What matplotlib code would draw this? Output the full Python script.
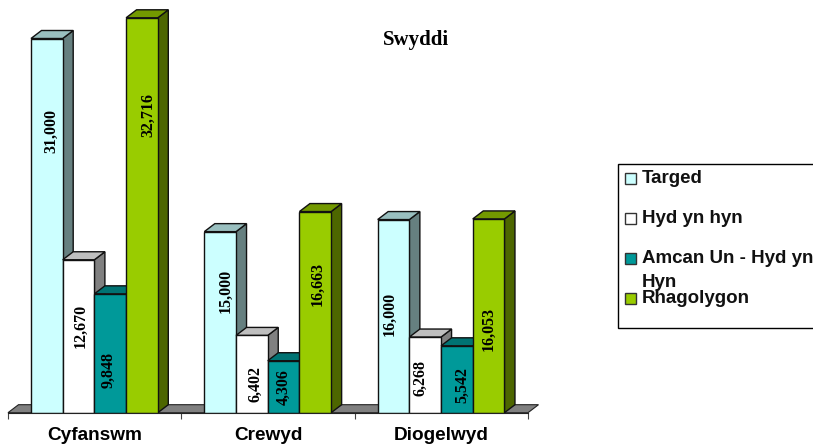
import matplotlib
matplotlib.use('Agg')
import matplotlib.pyplot as plt
from matplotlib.patches import Polygon, Rectangle

categories = ['Cyfanswm', 'Crewyd', 'Diogelwyd']
series_names = ['Targed', 'Hyd yn hyn', 'Amcan Un - Hyd yn\nHyn', 'Rhagolygon']
targed = [31000, 15000, 16000]
hyd_yn_hyn = [12670, 6402, 6268]
amcan = [9848, 4306, 5542]
rhagolygon = [32716, 16663, 16053]
series = [targed, hyd_yn_hyn, amcan, rhagolygon]

front = ['#CCFFFF', '#FFFFFF', '#009999', '#99CC00']
top = ['#99BFBF', '#BFBFBF', '#007373', '#739900']
side = ['#668080', '#808080', '#004D4D', '#4D6600']

# label offsets from the middle of each bar, in pixels
label_dx = [[4, 5, -4], [2, 3, -5], [-1.5, 0, 5], [6.5, 2.5, 0]]
label_dy = [[95, 31, 2], [10, -10, -3], [-17, 0, -6], [100, 28, -13]]

W, H = 813, 447
fig = plt.figure(figsize=(W / 100, H / 100), dpi=100)
left_px, right_px, base_px = 8, 528, 412.7
y_max = 34000
px_per_unit = 374.2 / 31000
ax = fig.add_axes([left_px / W, (H - base_px) / H, (right_px - left_px) / W,
                   y_max * px_per_unit / H])
ax.set_xlim(0, 3)
ax.set_ylim(0, y_max)
ax.patch.set_alpha(0)

depth_x = 10.5 / ((right_px - left_px) / 3)
depth_y = 8 / px_per_unit
bar_w = 31.7 / ((right_px - left_px) / 3)
first = 23 / ((right_px - left_px) / 3)

# floor
ax.add_patch(Polygon([(0, 0), (3, 0), (3 + depth_x, depth_y), (depth_x, depth_y)],
                     fc='#808080', ec='#222222', lw=0.8, clip_on=False, zorder=1))

z = 2
for c in range(3):
    for s in range(4):
        x = c + first + s * bar_w
        v = series[s][c]
        ax.add_patch(Polygon([(x + bar_w, 0), (x + bar_w + depth_x, depth_y),
                              (x + bar_w + depth_x, v + depth_y), (x + bar_w, v)],
                             fc=side[s], ec='#111111', lw=1, clip_on=False, zorder=z))
        ax.add_patch(Polygon([(x, v), (x + depth_x, v + depth_y),
                              (x + bar_w + depth_x, v + depth_y), (x + bar_w, v)],
                             fc=top[s], ec='#111111', lw=1, clip_on=False, zorder=z))
        ax.bar(x, v, bar_w, align='edge', color=front[s], edgecolor='#111111',
               lw=1, zorder=z + 0.1)
        ax.annotate(f'{v:,}', xy=(x + bar_w / 2, v / 2),
                    xytext=(label_dx[s][c], label_dy[s][c]), textcoords='offset pixels',
                    rotation=90, ha='center', va='center', fontsize=11.5,
                    family='Liberation Serif', fontweight='bold', color='black',
                    zorder=50)
        z += 1

for name in ['top', 'left', 'right']:
    ax.spines[name].set_visible(False)
ax.spines['bottom'].set_color('#222222')
ax.spines['bottom'].set_zorder(60)
ax.set_yticks([])
ax.set_xticks([0, 1, 2, 3])
ax.set_xticklabels([])
ax.tick_params(axis='x', which='major', length=4, width=0.8, color='#444444')
ax.set_xticks([0.5, 1.5, 2.5], minor=True)
ax.set_xticklabels(categories, minor=True, family='Liberation Sans', fontweight='bold',
                   fontsize=13.7)
ax.tick_params(axis='x', which='minor', length=0, pad=10.5)

# title and legend drawn in pixel coordinates
over = fig.add_axes([0, 0, 1, 1])
over.set_xlim(0, W)
over.set_ylim(H, 0)
over.axis('off')
over.patch.set_alpha(0)
over.text(416, 40, 'Swyddi', family='Liberation Serif', fontweight='bold', fontsize=15,
          ha='center', va='center')

over.add_patch(Rectangle((618, 164), 210, 163.5, fc='white', ec='black', lw=1))
legend_y = [178, 218, 258, 298]
for name, col, ly in zip(series_names, front, legend_y):
    over.add_patch(Rectangle((624.5, ly - 5.5), 11, 11, fc=col, ec='#333333', lw=1))
    lines = name.split('\n')
    over.text(642, ly + 5, lines[0], family='Liberation Sans', fontweight='bold',
              fontsize=13.5, va='baseline', color='#111111')
    if len(lines) > 1:
        over.text(642, ly + 29, lines[1], family='Liberation Sans', fontweight='bold',
                  fontsize=13.5, va='baseline', color='#111111')

fig.savefig('out.png', dpi=100)
